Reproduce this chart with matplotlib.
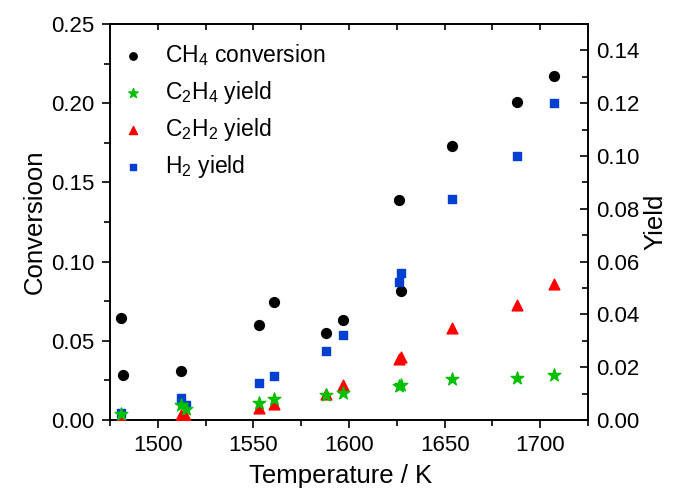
import numpy as np
import matplotlib
matplotlib.use("Agg")
import matplotlib.pyplot as plt
from matplotlib.ticker import MultipleLocator

plt.rcParams["font.family"] = ["Liberation Sans", "DejaVu Sans"]
plt.rcParams["mathtext.default"] = "regular"

# CH4 conversion (left axis)
t_conv = [1481, 1482, 1512, 1553, 1561, 1588, 1597, 1626, 1627, 1654, 1688, 1707]
conv_ch4 = [0.0644, 0.0284, 0.031, 0.060, 0.0745, 0.055, 0.063, 0.139, 0.0814, 0.173, 0.2008, 0.2172]

# yields (right axis)
t_yield = [1481, 1512, 1515, 1553, 1561, 1588, 1597, 1626, 1627, 1654, 1688, 1707]
y_h2 = [0.0027, 0.0083, 0.0057, 0.014, 0.0167, 0.0261, 0.0322, 0.0523, 0.0557, 0.0837, 0.100, 0.120]
y_c2h2 = [0.001, 0.002, 0.001, 0.0045, 0.006, 0.0098, 0.0133, 0.023, 0.0239, 0.035, 0.0436, 0.0515]
y_c2h4 = [0.0023, 0.0057, 0.0042, 0.0064, 0.008, 0.0095, 0.0102, 0.013, 0.0133, 0.0155, 0.0159, 0.0170]

fig = plt.figure(figsize=(6.73, 4.91), dpi=100)
ax = fig.add_axes([0.1634, 0.1446, 0.7103, 0.8065])
ax2 = ax.twinx()

ax2.scatter(t_yield, y_h2, marker="s", s=40, color="#0040d0", label="$H_2$ yield", zorder=3)
ax2.scatter(t_yield, y_c2h2, marker="^", s=60, color="#ff0000", label="$C_2H_2$ yield", zorder=3)
ax2.scatter(t_yield, y_c2h4, marker="*", s=90, color="#00c000", label="$C_2H_4$ yield", zorder=4)
ax.scatter(t_conv, conv_ch4, marker="o", s=50, color="black", label="$CH_4$ conversion")

ax.set_xlim(1475, 1725)
ax.set_ylim(0, 0.25)
ax2.set_ylim(0, 0.15)

ax.xaxis.set_major_locator(MultipleLocator(50))
ax.xaxis.set_minor_locator(MultipleLocator(25))
ax.yaxis.set_major_locator(MultipleLocator(0.05))
ax.yaxis.set_minor_locator(MultipleLocator(0.025))
ax2.yaxis.set_major_locator(MultipleLocator(0.02))
ax2.yaxis.set_minor_locator(MultipleLocator(0.01))
ax.yaxis.set_major_formatter(plt.FormatStrFormatter("%.2f"))
ax2.yaxis.set_major_formatter(plt.FormatStrFormatter("%.2f"))

ax.tick_params(which="both", direction="out", labelsize=16, width=1.2, pad=5)
ax.tick_params(which="major", length=6)
ax.tick_params(which="minor", length=4)
ax2.tick_params(which="both", direction="in", labelsize=16, width=1.2, pad=6)
ax2.tick_params(which="major", length=6)
ax2.tick_params(which="minor", length=4)

top = ax.secondary_xaxis("top")
top.xaxis.set_major_locator(MultipleLocator(25))
top.tick_params(direction="in", length=4, width=1.2, labeltop=False)

for a in (ax, ax2):
    for sp in a.spines.values():
        sp.set_linewidth(1.2)
top.spines["top"].set_linewidth(1.2)

ax.set_xlabel("Temperature / K", fontsize=18.5)
ax.xaxis.set_label_coords(0.483, -0.112)
ax.set_ylabel("Conversioon", fontsize=18.5, labelpad=3)
ax2.set_ylabel("Yield", fontsize=18.5, labelpad=3)

h1, l1 = ax.get_legend_handles_labels()
h2, l2 = ax2.get_legend_handles_labels()
handles = h1 + [h2[2], h2[1], h2[0]]
labels = l1 + [l2[2], l2[1], l2[0]]
ax2.legend(handles, labels, loc="upper left", frameon=False, fontsize=16.5,
           handletextpad=0.9, labelspacing=0.45, markerscale=0.75,
           handlelength=1.0, borderaxespad=0.4, bbox_to_anchor=(-0.015, 1.0))

fig.savefig("out.png", dpi=100)
